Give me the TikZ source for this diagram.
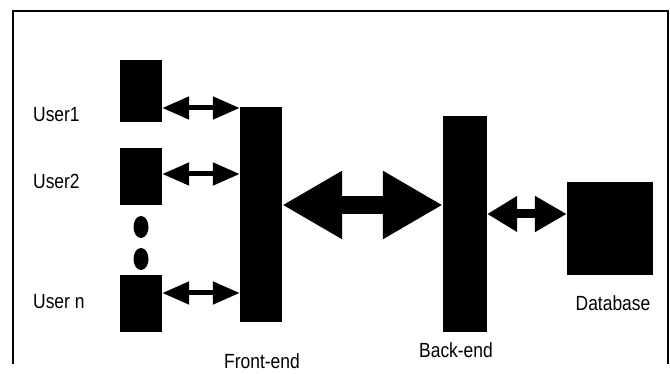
\documentclass[tikz,border=0pt]{standalone}
\usepackage{fontspec}
\setmainfont{Liberation Sans}
\newfontfamily\narrowfont[FakeStretch=0.85]{Liberation Sans}
\usetikzlibrary{arrows.meta}
\usetikzlibrary{positioning}
\usetikzlibrary{shapes.geometric}

\begin{document}
\begin{tikzpicture}[
  x = 1pt, y = -1pt,
  block/.style = {fill = black, inner sep = 0pt},
  userbox/.style = {block, minimum width = 42pt, minimum height = 57pt},
  dot/.style = {fill = black, ellipse, inner sep = 0pt, minimum width = 15pt, minimum height = 22pt},
  label/.style = {font = \narrowfont\fontsize{20.5}{22}\selectfont, inner sep = 0pt},
  smallarrow/.style = {line width = 5pt, {Triangle[length = 27pt, width = 22pt]}-{Triangle[length = 27pt, width = 22pt]}},
  midarrow/.style = {line width = 9pt, {Triangle[length = 30pt, width = 34pt]}-{Triangle[length = 32pt, width = 34pt]}},
  bigarrow/.style = {line width = 18pt, {Triangle[length = 60pt, width = 64pt]}-{Triangle[length = 60pt, width = 64pt]}}
]
\fill[white] (0,0) rectangle (670,374);
\draw[line width = 1.5pt] (13,364) -- (13,11) -- (668,11) -- (668,364);

% users
\node[userbox, minimum height = 62pt] (u1) at (141,91) {};
\node[userbox] (u2) at (141,176.5) {};
\node[userbox] (un) at (141,303.5) {};
\node[dot] (d1) at (141,227) {};
\node[dot] (d2) at (141,259) {};

% tiers
\node[block, minimum width = 42pt, minimum height = 215pt] (front) at (261,214.5) {};
\node[block, minimum width = 44pt, minimum height = 216pt] (back) at (465,224) {};
\node[block, minimum width = 86pt, minimum height = 93pt] (db) at (610,228.5) {};

% labels
\node[label, anchor = west] (l1) at (33,115) {User1};
\node[label, anchor = west] (l2) at (33,181) {User2};
\node[label, anchor = west] (ln) at (33,302) {User n};
\node[label] (lfront) at (262,361) {Front-end};
\node[label] (lback) at (456,350) {Back-end};
\node[label] (ldb) at (613,303) {Database};

% connections
\draw[smallarrow] ([yshift = -17pt]u1.east) -- ([yshift = -17pt]u1.east -| front.west);
\draw[smallarrow] ([yshift = 2.5pt]u2.east) -- ([yshift = 2.5pt]u2.east -| front.west);
\draw[smallarrow] ([yshift = 10.5pt]un.east) -- ([yshift = 10.5pt]un.east -| front.west);
\draw[bigarrow] ([yshift = 9.5pt]front.east) -- ([yshift = 9.5pt]front.east -| back.west);
\draw[midarrow] ([yshift = 10pt]back.east) -- ([yshift = 10pt]back.east -| db.west);
\end{tikzpicture}
\end{document}
